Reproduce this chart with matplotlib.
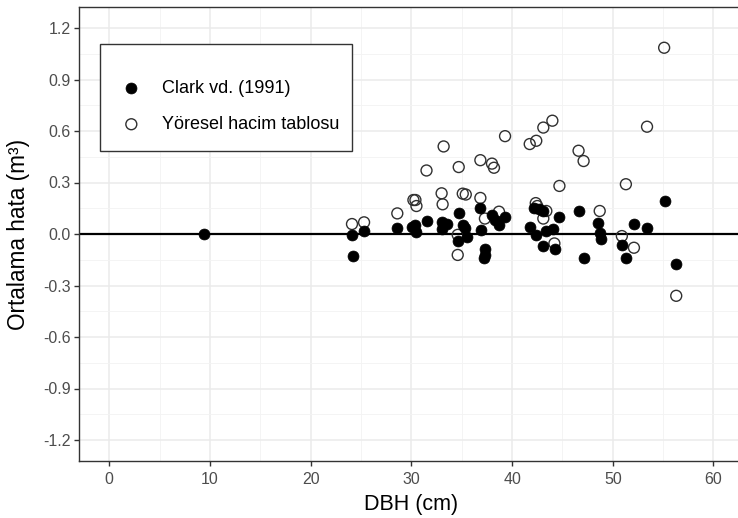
import matplotlib
matplotlib.use("Agg")
import matplotlib.pyplot as plt
from matplotlib.patches import Rectangle
from matplotlib.ticker import MultipleLocator

plt.rcParams['font.family'] = ['Liberation Sans', 'DejaVu Sans']

# Clark vd. (1991) - filled points
dbh_clark = [9.4, 24.1, 24.2, 25.3, 28.6, 30.1, 30.4, 30.5, 31.5, 33.0, 33.5, 33.0,
             34.7, 35.1, 34.6, 35.3, 35.5, 36.85, 36.9, 37.3, 37.3, 37.2, 38.0, 38.3,
             38.7, 39.3, 41.75, 42.4, 42.2, 42.7, 43.1, 43.4, 44.1, 43.1, 44.3, 44.7,
             46.6, 47.1, 48.5, 48.7, 48.8, 50.9, 51.3, 52.1, 53.4, 55.2, 56.3]
err_clark = [0.0, -0.006, -0.126, 0.02, 0.033, 0.043, 0.052, 0.01, 0.078, 0.068, 0.058, 0.027,
             0.12, 0.052, -0.04, 0.033, -0.018, 0.15, 0.023, -0.09, -0.12, -0.14, 0.11, 0.082,
             0.052, 0.097, 0.039, -0.006, 0.153, 0.146, 0.134, 0.02, 0.027, -0.072, -0.09, 0.1,
             0.132, -0.138, 0.066, 0.004, -0.031, -0.064, -0.142, 0.056, 0.033, 0.194, -0.175]

# Yoresel hacim tablosu - open points
dbh_yor = [24.1, 25.3, 28.6, 30.2, 30.4, 30.5, 31.5, 33.2, 34.7, 33.0, 33.1, 35.1,
           35.4, 34.6, 34.6, 36.85, 38.0, 38.2, 39.3, 41.75, 42.4, 43.1, 44.0, 46.6,
           47.1, 44.7, 36.85, 37.3, 38.7, 42.35, 42.5, 43.1, 43.4, 44.2, 48.7, 51.3,
           53.4, 55.1, 50.9, 52.1, 56.3]
err_yor = [0.058, 0.068, 0.12, 0.198, 0.198, 0.163, 0.37, 0.51, 0.39, 0.237, 0.173, 0.235,
           0.23, -0.122, -0.005, 0.43, 0.41, 0.386, 0.57, 0.524, 0.543, 0.62, 0.66, 0.485,
           0.425, 0.28, 0.21, 0.09, 0.13, 0.18, 0.163, 0.09, 0.134, -0.055, 0.134, 0.29,
           0.625, 1.085, -0.012, -0.08, -0.36]

labels = ['Clark vd. (1991)', 'Yöresel hacim tablosu']

W, H = 738, 518
fig = plt.figure(figsize=(W / 100, H / 100), dpi=100)
# panel extends past the right edge, like the cropped original
ax = fig.add_axes([79.1 / W, 1 - 460.6 / H, 664.6 / W, 453.2 / H])

ax.set_xlim(-3, 63)
ax.set_ylim(-1.32, 1.32)
ax.xaxis.set_major_locator(MultipleLocator(10))
ax.xaxis.set_minor_locator(MultipleLocator(5))
ax.yaxis.set_minor_locator(MultipleLocator(0.15))
ax.set_yticks([-1.2, -0.9, -0.6, -0.3, 0.0, 0.3, 0.6, 0.9, 1.2])
ax.set_yticklabels(['-1.2', '-0.9', '-0.6', '-0.3', '0.0', '0.3', '0.6', '0.9', '1.2'])

ax.grid(which='major', color='#EBEBEB', lw=1.1)
ax.grid(which='minor', color='#F3F3F3', lw=0.6)
ax.set_axisbelow(True)
for s in ax.spines.values():
    s.set_color('#333333')
    s.set_linewidth(1.0)

ax.tick_params(which='major', length=3.5, width=1.0, color='#333333',
               labelsize=11.5, labelcolor='#4D4D4D', pad=2.5)
ax.tick_params(axis='x', which='major', pad=5)
ax.tick_params(which='minor', length=0)

ax.axhline(0, color='black', lw=1.6, zorder=2)

ax.scatter(dbh_yor, err_yor, s=62, facecolors='none', edgecolors='#303030',
           linewidths=1.0, zorder=3, label=labels[1])
ax.scatter(dbh_clark, err_clark, s=62, color='black', edgecolors='black',
           linewidths=0.5, zorder=4, label=labels[0])

ax.set_xlabel('DBH (cm)', fontsize=15.5, labelpad=5)
ax.set_ylabel('Ortalama hata (m³)', fontsize=16.3)
ax.yaxis.set_label_coords(-0.0746, 0.5)

# legend box drawn separately so the padding can match the original
box = Rectangle((100 / W, 1 - 151 / H), 252 / W, 107 / H,
                transform=fig.transFigure, facecolor='white',
                edgecolor='#333333', lw=1.0, zorder=5, clip_on=False)
ax.add_patch(box)

h, l = ax.get_legend_handles_labels()
leg = ax.legend([h[1], h[0]], [l[1], l[0]], loc='center left', frameon=False,
                bbox_to_anchor=(122.3 / W, 1 - 106.5 / H), bbox_transform=fig.transFigure,
                fontsize=13, borderpad=0, borderaxespad=0, handlelength=1.0,
                handletextpad=1.2, labelspacing=1.05, scatterpoints=1)
leg.set_zorder(6)

fig.savefig('out.png', dpi=100)
